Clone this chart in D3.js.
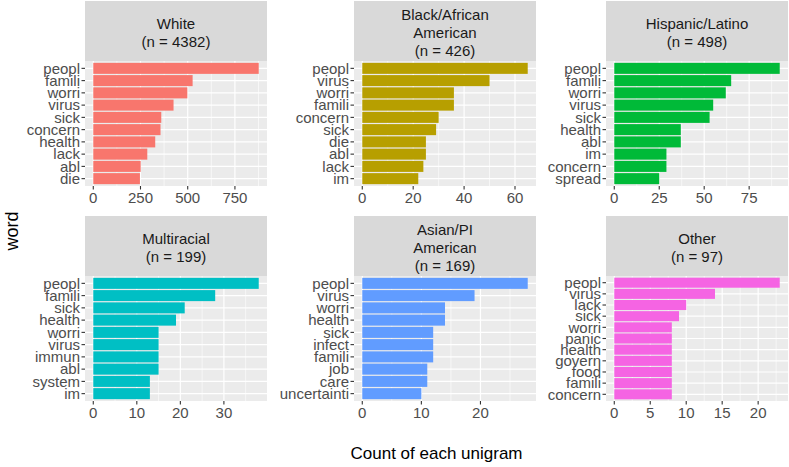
<!DOCTYPE html>
<html><head><meta charset="utf-8">
<script src="https://cdn.jsdelivr.net/npm/d3@7"></script>
<style>body{margin:0;background:#fff}svg{display:block}text{font-family:"Liberation Sans",Arial,sans-serif}</style>
</head><body><svg id="c" width="789" height="467"></svg>
<script>
const groups = ["White", "Black/African\nAmerican", "Hispanic/Latino", "Multiracial", "Asian/PI\nAmerican", "Other"];
const groupN = [4382, 426, 498, 199, 169, 97];
const colors = ["#F8766D", "#B79F00", "#00BA38", "#00BFC4", "#619CFF", "#F564E3"];

const wordsWhite = ["peopl","famili","worri","virus","sick","concern","health","lack","abl","die"];
const countsWhite = [876,526,498,425,360,356,328,286,251,247];
const wordsBlack = ["peopl","virus","worri","famili","concern","sick","die","abl","lack","im"];
const countsBlack = [65,50,36,36,30,29,25,25,24,22];
const wordsHisp = ["peopl","famili","worri","virus","sick","health","abl","im","concern","spread"];
const countsHisp = [92,65,62,55,53,37,37,29,29,25];
const wordsMulti = ["peopl","famili","sick","health","worri","virus","immun","abl","system","im"];
const countsMulti = [38,28,21,19,15,15,15,15,13,13];
const wordsAsian = ["peopl","virus","worri","health","sick","infect","famili","job","care","uncertainti"];
const countsAsian = [28,19,14,14,12,12,12,11,11,10];
const wordsOther = ["peopl","virus","lack","sick","worri","panic","health","govern","food","famili","concern"];
const countsOther = [23,14,10,9,8,8,8,8,8,8,8];

const ticksWhite = [0,250,500,750];
const ticksBlack = [0,20,40,60];
const ticksHisp = [0,25,50,75];
const ticksMulti = [0,10,20,30];
const ticksAsian = [0,10,20];
const ticksOther = [0,5,10,15,20];

const panelWords = [wordsWhite, wordsBlack, wordsHisp, wordsMulti, wordsAsian, wordsOther];
const panelCounts = [countsWhite, countsBlack, countsHisp, countsMulti, countsAsian, countsOther];
const panelTicks = [ticksWhite, ticksBlack, ticksHisp, ticksMulti, ticksAsian, ticksOther];

const svg = d3.select("#c");
const colX = [85, 354, 606], panelW = 182;
const rowTop = [1, 216], stripH = 60, panelH = 125;
const fs = 15;

groups.forEach((g, i) => {
  const col = i % 3, row = Math.floor(i / 3);
  const x0 = colX[col], sTop = rowTop[row], pTop = sTop + stripH;
  const words = panelWords[i], counts = panelCounts[i];
  const data = words.map((w, j) => ({w, v: counts[j]}));
  const mx = d3.max(counts);
  const x = d3.scaleLinear().domain([-0.05 * mx, 1.05 * mx]).range([x0, x0 + panelW]);
  const n = words.length;
  const yc = d3.scaleLinear().domain([-0.6, n - 1 + 0.6]).range([pTop, pTop + panelH]);
  const step = panelH / (n + 0.2);

  // strip
  svg.append("rect").attr("x", x0).attr("y", sTop).attr("width", panelW).attr("height", stripH).attr("fill", "#D9D9D9");
  const lines = (g + "\n(n = " + groupN[i] + ")").split("\n");
  const lh = 18;
  const t = svg.append("text").attr("x", x0 + panelW / 2).attr("text-anchor", "middle")
    .attr("font-size", fs).attr("fill", "#1A1A1A");
  lines.forEach((l, k) => {
    t.append("tspan").attr("x", x0 + panelW / 2)
      .attr("y", sTop + stripH / 2 + (k - (lines.length - 1) / 2) * lh + 7).text(l);
  });

  // panel
  const p = svg.append("g");
  p.append("rect").attr("x", x0).attr("y", pTop).attr("width", panelW).attr("height", panelH).attr("fill", "#EBEBEB");
  const ticks = panelTicks[i];
  const dt = ticks[1] - ticks[0];
  const minor = [];
  for (let k = -1; k < ticks.length + 1; k++) {
    const m = ticks[0] + (k + 0.5) * dt;
    if (m > x.domain()[0] && m < x.domain()[1]) minor.push(m);
  }
  p.selectAll(".mn").data(minor).join("line")
    .attr("x1", d => x(d)).attr("x2", d => x(d)).attr("y1", pTop).attr("y2", pTop + panelH)
    .attr("stroke", "#fff").attr("stroke-width", 0.6);
  p.selectAll(".mj").data(ticks).join("line")
    .attr("x1", d => x(d)).attr("x2", d => x(d)).attr("y1", pTop).attr("y2", pTop + panelH)
    .attr("stroke", "#fff").attr("stroke-width", 1.2);
  p.selectAll(".hg").data(data).join("line")
    .attr("x1", x0).attr("x2", x0 + panelW).attr("y1", (d, j) => yc(j)).attr("y2", (d, j) => yc(j))
    .attr("stroke", "#fff").attr("stroke-width", 1.2);
  p.selectAll(".bar").data(data).join("rect")
    .attr("x", x(0)).attr("y", (d, j) => yc(j) - step * 0.45)
    .attr("width", d => x(d.v) - x(0)).attr("height", step * 0.9)
    .attr("fill", colors[i]);

  // y axis
  const yAxis = svg.append("g");
  data.forEach((d, j) => {
    yAxis.append("line").attr("x1", x0 - 3.5).attr("x2", x0).attr("y1", yc(j)).attr("y2", yc(j))
      .attr("stroke", "#333").attr("stroke-width", 1.1);
    yAxis.append("text").attr("x", x0 - 5).attr("y", yc(j)).attr("dy", "0.35em")
      .attr("text-anchor", "end").attr("font-size", fs).attr("fill", "#4D4D4D").text(d.w);
  });
  // x axis
  const xAxis = svg.append("g");
  ticks.forEach(tv => {
    xAxis.append("line").attr("x1", x(tv)).attr("x2", x(tv)).attr("y1", pTop + panelH).attr("y2", pTop + panelH + 3.5)
      .attr("stroke", "#333").attr("stroke-width", 1.1);
    xAxis.append("text").attr("x", x(tv)).attr("y", pTop + panelH + 5).attr("dy", "0.8em")
      .attr("text-anchor", "middle").attr("font-size", fs).attr("fill", "#4D4D4D").text(tv);
  });
});

svg.append("text").attr("x", (85 + 788) / 2).attr("y", 459).attr("text-anchor", "middle")
  .attr("font-size", 17).attr("fill", "#000").text("Count of each unigram");
svg.append("text").attr("transform", "translate(18," + ((61 + 401) / 2) + ") rotate(-90)")
  .attr("text-anchor", "middle").attr("font-size", 18).attr("fill", "#000").text("word");
</script></body></html>
